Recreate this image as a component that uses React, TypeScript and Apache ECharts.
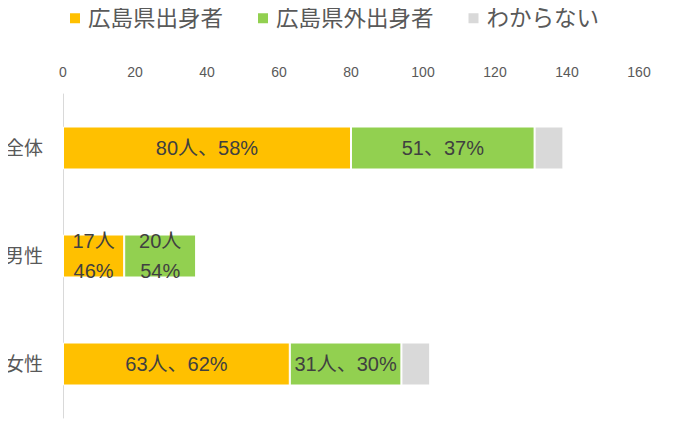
import React, { useEffect, useRef } from "react";
import * as echarts from "echarts";

const categories = ["全体", "男性", "女性"];
const seriesNames = ["広島県出身者", "広島県外出身者", "わからない"];
const hiroshima = [80, 17, 63];
const outside = [51, 20, 31];
const unknown = [8, 0, 8];
const hiroshimaLabels = ["80人、58%", "17人\n46%", "63人、62%"];
const outsideLabels = ["51、37%", "20人\n54%", "31人、30%"];
const xTicks = [0, 20, 40, 60, 80, 100, 120, 140, 160];

const FONT = "'Liberation Sans', 'Noto Sans CJK JP', sans-serif";

export default function App() {
  const ref = useRef<HTMLDivElement>(null);
  useEffect(() => {
    if (!ref.current) return;
    const chart = echarts.init(ref.current, undefined, { renderer: "svg" });
    const labelStyle = (texts: string[]) => ({
      show: true,
      position: "inside",
      fontSize: 20,
      lineHeight: 30,
      color: "#404040",
      fontFamily: FONT,
      formatter: (p: any) => texts[p.dataIndex],
    });
    chart.setOption({
      animation: false,
      textStyle: { fontFamily: FONT },
      legend: {
        top: 2,
        left: 63,
        itemWidth: 12,
        itemHeight: 12,
        itemGap: 33,
        icon: "rect",
        textStyle: {
          fontSize: 22.5,
          color: "#595959",
          fontFamily: FONT,
          padding: [0, 0, 0, 2],
        },
        data: seriesNames,
      },
      grid: {
        left: 63,
        right: 41,
        top: 94,
        bottom: 18,
        containLabel: false,
        outerBoundsMode: "none",
      },
      xAxis: {
        type: "value",
        position: "top",
        min: xTicks[0],
        max: xTicks[xTicks.length - 1],
        interval: 20,
        axisLine: { show: false },
        axisTick: { show: false },
        splitLine: { show: false },
        axisLabel: { fontSize: 14, color: "#595959", margin: 15, fontFamily: FONT },
      },
      yAxis: {
        type: "category",
        inverse: true,
        data: categories,
        axisLine: { show: true, lineStyle: { color: "#d9d9d9", width: 1 } },
        axisTick: { show: false },
        axisLabel: { fontSize: 19, color: "#595959", margin: 20, fontFamily: FONT },
      },
      series: [
        {
          name: seriesNames[0],
          type: "bar",
          stack: "total",
          barWidth: 43,
          data: hiroshima,
          itemStyle: { color: "#ffc000", borderColor: "#ffffff", borderWidth: 1 },
          label: labelStyle(hiroshimaLabels),
        },
        {
          name: seriesNames[1],
          type: "bar",
          stack: "total",
          barWidth: 43,
          data: outside,
          itemStyle: { color: "#92d050", borderColor: "#ffffff", borderWidth: 1 },
          label: labelStyle(outsideLabels),
        },
        {
          name: seriesNames[2],
          type: "bar",
          stack: "total",
          barWidth: 43,
          data: unknown,
          itemStyle: { color: "#d9d9d9", borderColor: "#ffffff", borderWidth: 1 },
          label: { show: false },
        },
      ],
    });
    return () => chart.dispose();
  }, []);
  return <div ref={ref} style={{ width: 680, height: 436, margin: -8 }} />;
}
